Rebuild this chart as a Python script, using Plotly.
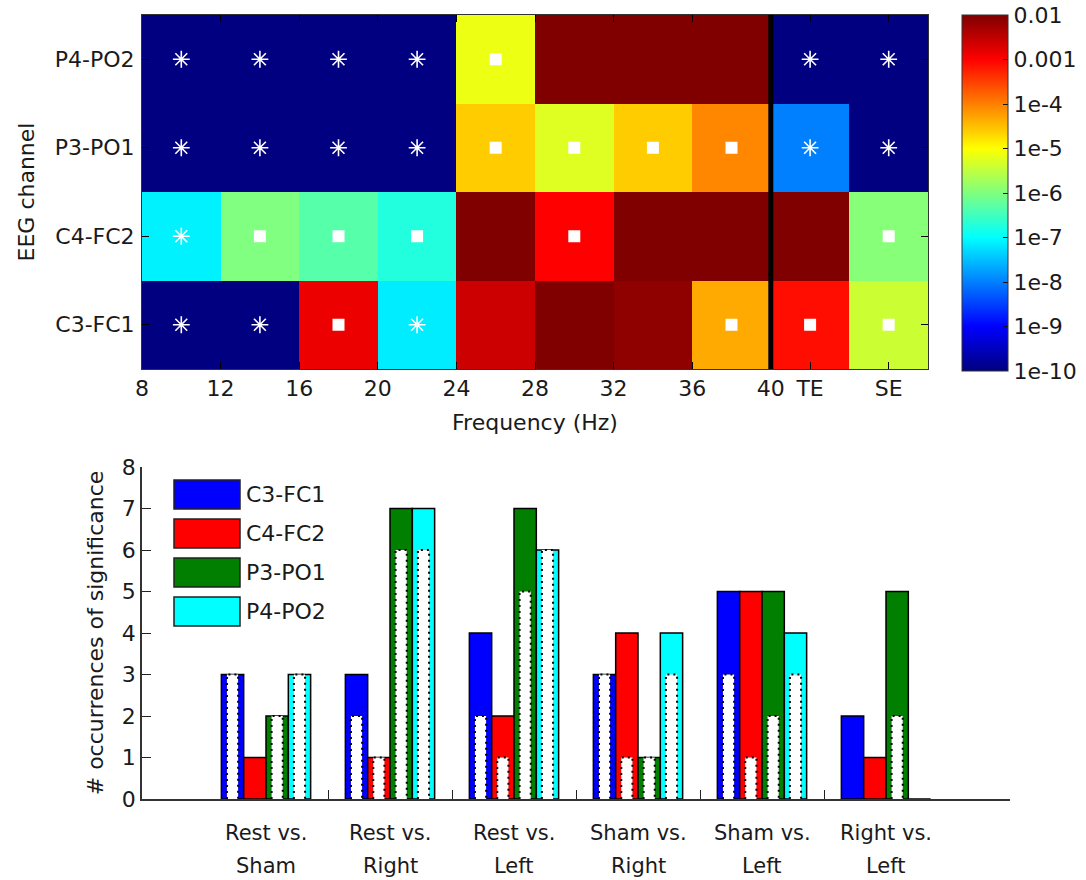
import numpy as np
import plotly.graph_objects as go

# ---------------- data: heatmap ----------------
channels = ['C3-FC1', 'C4-FC2', 'P3-PO1', 'P4-PO2']
col_centers = [10, 14, 18, 22, 26, 30, 34, 38, 42, 46]
x_tick_vals = [8, 12, 16, 20, 24, 28, 32, 36, 40, 42, 46]
x_tick_text = ['8', '12', '16', '20', '24', '28', '32', '36', '40', 'TE', 'SE']
band_boundary = 40

p_c3 = [1e-10, 1e-10, 1.4e-3, 7.2e-8, 2.5e-3, 1e-2, 7.6e-3, 4.6e-5, 7.9e-4, 4.0e-6]
p_c4 = [7.9e-8, 1.0e-6, 4.7e-7, 1.8e-7, 1e-2, 1.0e-3, 1e-2, 1e-2, 1e-2, 1.15e-6]
p_p3 = [1e-10, 1e-10, 1e-10, 1e-10, 2.5e-5, 5.5e-6, 2.5e-5, 8.7e-5, 1e-8, 1e-10]
p_p4 = [1e-10, 1e-10, 1e-10, 1e-10, 7.2e-6, 1e-2, 1e-2, 1e-2, 1e-10, 1e-10]

sig_c3 = ['*', '*', 's', '*', '', '', '', 's', 's', 's']
sig_c4 = ['*', 's', 's', 's', '', 's', '', '', '', 's']
sig_p3 = ['*', '*', '*', '*', 's', 's', 's', 's', '*', '*']
sig_p4 = ['*', '*', '*', '*', 's', '', '', '', '*', '*']

cbar_vals = [-10, -9, -8, -7, -6, -5, -4, -3, -2]
cbar_text = ['1e-10', '1e-9', '1e-8', '1e-7', '1e-6', '1e-5', '1e-4', '0.001', '0.01']

# ---------------- data: bars ----------------
comp_line1 = ['Rest vs.', 'Rest vs.', 'Rest vs.', 'Sham vs.', 'Sham vs.', 'Right vs.']
comp_line2 = ['Sham', 'Right', 'Left', 'Right', 'Left', 'Left']
series_names = ['C3-FC1', 'C4-FC2', 'P3-PO1', 'P4-PO2']
series_colors = ['#0000FF', '#FF0000', '#007F00', '#00FFFF']
count_c3 = [3, 3, 4, 3, 5, 2]
count_c4 = [1, 1, 2, 4, 5, 1]
count_p3 = [2, 7, 7, 1, 5, 5]
count_p4 = [3, 7, 6, 4, 4, 0]
inner_c3 = [3, 2, 2, 3, 3, 0]
inner_c4 = [0, 1, 1, 1, 1, 0]
inner_p3 = [2, 6, 5, 1, 2, 2]
inner_p4 = [3, 6, 6, 3, 3, 0]

FONT = 'DejaVu Sans'
TXT = '#1a1a1a'
W, H = 1086, 880
FS = 22

def px_x(v):
    return v / W

def px_y(v):
    return 1 - v / H

jet = [[0.0, 'rgb(0,0,128)'], [0.125, 'rgb(0,0,255)'], [0.375, 'rgb(0,255,255)'],
       [0.625, 'rgb(255,255,0)'], [0.875, 'rgb(255,0,0)'], [1.0, 'rgb(128,0,0)']]

fig = go.Figure()

z = np.log10(np.array([p_c3, p_c4, p_p3, p_p4]))
fig.add_trace(go.Heatmap(
    x=col_centers, y=channels, z=z, zmin=-10, zmax=-2, colorscale=jet,
    xaxis='x', yaxis='y', hoverinfo='skip',
    colorbar=dict(x=px_x(962), xanchor='left', y=px_y(193), yanchor='middle',
                  len=356, lenmode='pixels', thickness=46, thicknessmode='pixels',
                  xpad=0, ypad=0,
                  outlinewidth=1, outlinecolor='#333',
                  tickvals=cbar_vals, ticktext=cbar_text, ticks='inside', ticklen=5,
                  tickcolor='#111', tickfont=dict(family=FONT, size=FS, color=TXT))
))

sigs = [sig_c3, sig_c4, sig_p3, sig_p4]
ax, ay, sx, sy = [], [], [], []
for ch, row in zip(channels, sigs):
    for xc, s in zip(col_centers, row):
        if s == '*':
            ax.append(xc); ay.append(ch)
        elif s == 's':
            sx.append(xc); sy.append(ch)
fig.add_trace(go.Scatter(x=ax, y=ay, mode='markers', xaxis='x', yaxis='y',
                         marker=dict(symbol='asterisk-open', size=14, color='white',
                                     line=dict(color='white', width=1.6)),
                         showlegend=False, hoverinfo='skip'))
fig.add_trace(go.Scatter(x=sx, y=sy, mode='markers', xaxis='x', yaxis='y',
                         marker=dict(symbol='square', size=12, color='white',
                                     line=dict(width=0)),
                         showlegend=False, hoverinfo='skip'))

fig.add_shape(type='line', xref='x', yref='y domain', x0=band_boundary, x1=band_boundary,
              y0=0, y1=1, line=dict(color='black', width=5))

# ---------------- bars ----------------
positions = np.arange(1, len(comp_line1) + 1)
counts = [count_c3, count_c4, count_p3, count_p4]
inners = [inner_c3, inner_c4, inner_p3, inner_p4]
bw = 0.18
iw = 0.09
for i, (name, col, cnt, inn) in enumerate(zip(series_names, series_colors, counts, inners)):
    off = -2 * bw + i * bw
    fig.add_trace(go.Bar(x=positions, y=cnt, width=bw, offset=off, name=name,
                         marker=dict(color=col, line=dict(color='black', width=1.5)),
                         xaxis='x2', yaxis='y2', showlegend=False, hoverinfo='skip'))
    inn_arr = np.array(inn, dtype=float)
    mask = inn_arr > 0
    ioff = off + (bw - iw) / 2
    fig.add_trace(go.Bar(x=positions[mask], y=inn_arr[mask], width=iw, offset=ioff,
                         marker=dict(color='white', line=dict(width=0)),
                         xaxis='x2', yaxis='y2', showlegend=False, hoverinfo='skip'))
    ex, ey = [], []
    for p, h in zip(positions[mask], inn_arr[mask]):
        x0 = p + ioff
        x1 = x0 + iw
        ex += [x0, x0, x1, x1, None]
        ey += [0, h, h, 0, None]
    fig.add_trace(go.Scatter(x=ex, y=ey, mode='lines', xaxis='x2', yaxis='y2',
                             line=dict(color='black', width=2, dash='2px,4px'),
                             showlegend=False, hoverinfo='skip'))

# manual legend
for i, (name, col) in enumerate(zip(series_names, series_colors)):
    top = 480 + 39 * i
    fig.add_shape(type='rect', xref='paper', yref='paper',
                  x0=px_x(174), x1=px_x(240), y0=px_y(top + 29), y1=px_y(top),
                  fillcolor=col, line=dict(color='#222', width=1.5))
    fig.add_annotation(xref='paper', yref='paper', x=px_x(244), y=px_y(top + 14.5),
                       text=name, showarrow=False, xanchor='left', yanchor='middle',
                       font=dict(family=FONT, size=FS, color=TXT))

for p, l1, l2 in zip(positions, comp_line1, comp_line2):
    fig.add_annotation(xref='x2', yref='paper', x=p, y=px_y(833), text=l1, showarrow=False,
                       xanchor='center', yanchor='middle', font=dict(family=FONT, size=21, color=TXT))
    fig.add_annotation(xref='x2', yref='paper', x=p, y=px_y(866), text=l2, showarrow=False,
                       xanchor='center', yanchor='middle', font=dict(family=FONT, size=21, color=TXT))

tickfont = dict(family=FONT, size=FS, color=TXT)
fig.update_layout(
    width=W, height=H, margin=dict(l=0, r=0, t=0, b=0, autoexpand=False), autosize=False,
    paper_bgcolor='white', plot_bgcolor='white', barmode='overlay',
    font=dict(family=FONT, size=FS, color=TXT),
    xaxis=dict(domain=[px_x(142), px_x(928)], range=[8, 48], anchor='y', automargin=False,
               tickvals=x_tick_vals, ticktext=x_tick_text, ticks='inside', ticklen=7,
               tickcolor='black', showline=True, linecolor='#333', linewidth=1, mirror='ticks',
               showgrid=False, zeroline=False, tickfont=tickfont,
               title=dict(text='Frequency (Hz)', font=tickfont, standoff=14)),
    yaxis=dict(domain=[px_y(369), px_y(15)], anchor='x', type='category', automargin=False,
               categoryorder='array', categoryarray=channels,
               ticks='inside', ticklen=7, tickcolor='black', showline=True, linecolor='#333',
               linewidth=1, mirror='ticks', showgrid=False, zeroline=False, tickfont=tickfont,
               ticklabelstandoff=2,
               title=dict(text='EEG channel', font=tickfont, standoff=14)),
    xaxis2=dict(domain=[px_x(142), px_x(1010)], range=[0, 7], anchor='y2', automargin=False,
                tickvals=[1.5, 2.5, 3.5, 4.5, 5.5], ticktext=['', '', '', '', ''],
                ticks='inside', ticklen=9, tickcolor='#222', showline=True, linecolor='#333',
                linewidth=1.5, showgrid=False, zeroline=False),
    yaxis2=dict(domain=[px_y(799), px_y(467)], range=[0, 8], anchor='x2', dtick=1, automargin=False,
                ticks='inside', ticklen=9, tickcolor='#222', showline=True, linecolor='#333',
                linewidth=1.5, showgrid=False, zeroline=False, tickfont=tickfont,
                title=dict(text='# occurrences of significance', font=tickfont, standoff=12)),
)

fig.write_html('out.html')
